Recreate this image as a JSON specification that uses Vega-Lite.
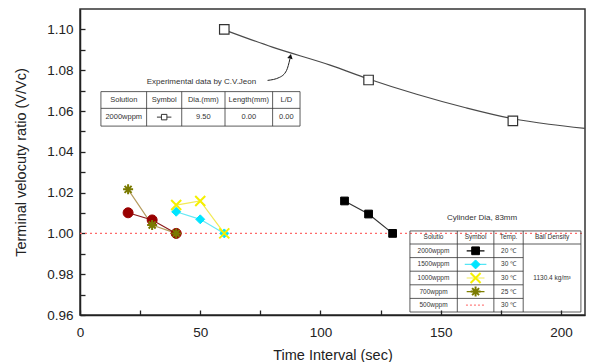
{
  "$schema": "https://vega.github.io/schema/vega-lite/v6.json",
  "width": 505,
  "height": 306,
  "autosize": {"type": "none"},
  "padding": {"left": 80, "top": 9, "right": 4, "bottom": 47},
  "background": "white",
  "config": {"view": {"stroke": "#333333", "strokeWidth": 1.5}, "font": "Liberation Sans"},
  "datasets": {
    "fit": [
      {"x": 60, "y": 1.0998}, {"x": 80, "y": 1.0913}, {"x": 104, "y": 1.0825}, {"x": 120, "y": 1.0757},
      {"x": 140, "y": 1.0682}, {"x": 160, "y": 1.0617}, {"x": 180, "y": 1.0562}, {"x": 195, "y": 1.0535}, {"x": 210, "y": 1.0515}
    ],
    "jeon": [{"x": 60, "y": 1.100}, {"x": 120, "y": 1.0752}, {"x": 180, "y": 1.0552}],
    "jeonsym": [{"x": 35.0, "y": 1.057}],
    "jeonseg": [{"x": 32.0, "x2": 38.0, "y": 1.057}],
    "ref": [{"x": 0, "x2": 210, "y": 1.0}],
    "pts": [
      {"s": "2000", "g": "data", "x": 110, "y": 1.0159},
      {"s": "2000", "g": "data", "x": 120, "y": 1.0095},
      {"s": "2000", "g": "data", "x": 130, "y": 1.0},
      {"s": "1500", "g": "data", "x": 40, "y": 1.0106},
      {"s": "1500", "g": "data", "x": 50, "y": 1.0069},
      {"s": "1500", "g": "data", "x": 60, "y": 1.0},
      {"s": "1000", "g": "data", "x": 40, "y": 1.0139},
      {"s": "1000", "g": "data", "x": 50, "y": 1.0159},
      {"s": "1000", "g": "data", "x": 60, "y": 1.0},
      {"s": "700", "g": "data", "x": 20, "y": 1.0216},
      {"s": "700", "g": "data", "x": 30, "y": 1.0041},
      {"s": "700", "g": "data", "x": 40, "y": 1.0},
      {"s": "m", "g": "data", "x": 20, "y": 1.0101},
      {"s": "m", "g": "data", "x": 30, "y": 1.0066},
      {"s": "m", "g": "data", "x": 40, "y": 1.0},
      {"s": "2000", "g": "table", "x": 164.5, "y": 0.99147},
      {"s": "1500", "g": "table", "x": 164.5, "y": 0.9848},
      {"s": "1000", "g": "table", "x": 164.5, "y": 0.97814},
      {"s": "700", "g": "table", "x": 164.5, "y": 0.97147}
    ],
    "legsegs": [
      {"s": "2000", "x": 160.8, "x2": 168.2, "y": 0.99147},
      {"s": "1500", "x": 160.0, "x2": 169.0, "y": 0.9848},
      {"s": "1000", "x": 160.8, "x2": 168.2, "y": 0.97814},
      {"s": "700", "x": 160.8, "x2": 168.2, "y": 0.97147},
      {"s": "500", "x": 160.5, "x2": 168.5, "y": 0.9648}
    ],
    "segs": [
      {"x": 8.7, "x2": 91.5, "y": 1.0695, "y2": 1.0695},
      {"x": 8.7, "x2": 91.5, "y": 1.0613, "y2": 1.0613},
      {"x": 8.7, "x2": 91.5, "y": 1.0526, "y2": 1.0526},
      {"x": 8.7, "x2": 8.7, "y": 1.0526, "y2": 1.0695},
      {"x": 27.7, "x2": 27.7, "y": 1.0526, "y2": 1.0695},
      {"x": 42.3, "x2": 42.3, "y": 1.0526, "y2": 1.0695},
      {"x": 60.3, "x2": 60.3, "y": 1.0526, "y2": 1.0695},
      {"x": 80.1, "x2": 80.1, "y": 1.0526, "y2": 1.0695},
      {"x": 91.5, "x2": 91.5, "y": 1.0526, "y2": 1.0695},
      {"x": 137.2, "x2": 208.3, "y": 1.0012, "y2": 1.0012},
      {"x": 137.2, "x2": 208.3, "y": 0.9948, "y2": 0.9948},
      {"x": 137.2, "x2": 184.3, "y": 0.98814, "y2": 0.98814},
      {"x": 137.2, "x2": 184.3, "y": 0.98147, "y2": 0.98147},
      {"x": 137.2, "x2": 184.3, "y": 0.9748, "y2": 0.9748},
      {"x": 137.2, "x2": 184.3, "y": 0.96814, "y2": 0.96814},
      {"x": 137.2, "x2": 208.3, "y": 0.96147, "y2": 0.96147},
      {"x": 137.2, "x2": 137.2, "y": 0.96147, "y2": 1.0012},
      {"x": 156.9, "x2": 156.9, "y": 0.96147, "y2": 1.0012},
      {"x": 172.1, "x2": 172.1, "y": 0.96147, "y2": 1.0012},
      {"x": 184.3, "x2": 184.3, "y": 0.96147, "y2": 1.0012},
      {"x": 208.3, "x2": 208.3, "y": 0.96147, "y2": 1.0012}
    ],
    "tab1": [
      {"x": 18.2, "y": 1.0654, "t": "Solution"},
      {"x": 35.0, "y": 1.0654, "t": "Symbol"},
      {"x": 51.3, "y": 1.0654, "t": "Dia.(mm)"},
      {"x": 70.2, "y": 1.0654, "t": "Length(mm)"},
      {"x": 85.8, "y": 1.0654, "t": "L/D"},
      {"x": 18.2, "y": 1.057, "t": "2000wppm"},
      {"x": 51.3, "y": 1.057, "t": "9.50"},
      {"x": 70.2, "y": 1.057, "t": "0.00"},
      {"x": 85.8, "y": 1.057, "t": "0.00"}
    ],
    "tab2": [
      {"x": 147.0, "y": 0.998, "t": "Solutio"},
      {"x": 164.5, "y": 0.998, "t": "Symbol"},
      {"x": 178.2, "y": 0.998, "t": "Temp."},
      {"x": 196.3, "y": 0.998, "t": "Ball Density"},
      {"x": 147.0, "y": 0.99147, "t": "2000wppm"},
      {"x": 147.0, "y": 0.9848, "t": "1500wppm"},
      {"x": 147.0, "y": 0.97814, "t": "1000wppm"},
      {"x": 147.0, "y": 0.97147, "t": "700wppm"},
      {"x": 147.0, "y": 0.9648, "t": "500wppm"},
      {"x": 178.2, "y": 0.99147, "t": "20 ℃"},
      {"x": 178.2, "y": 0.9848, "t": "30 ℃"},
      {"x": 178.2, "y": 0.97814, "t": "30 ℃"},
      {"x": 178.2, "y": 0.97147, "t": "25 ℃"},
      {"x": 178.2, "y": 0.9648, "t": "30 ℃"},
      {"x": 196.3, "y": 0.97814, "t": "1130.4 kg/m³"}
    ],
    "notes": [
      {"x": 50.5, "y": 1.0744, "t": "Experimental data by C.V.Jeon"},
      {"x": 167.2, "y": 1.0077, "t": "Cylinder Dia, 83mm"}
    ],
    "arrow": [
      {"x": 78.0, "y": 1.075}, {"x": 83.0, "y": 1.0765}, {"x": 85.9, "y": 1.0799}, {"x": 87.3, "y": 1.0855}
    ],
    "head": [{"x": 87.5, "y": 1.0868}]
  },
  "encoding": {
    "x": {
      "field": "x", "type": "quantitative",
      "scale": {"domain": [0, 210], "nice": false, "zero": false},
      "axis": {
        "title": "Time Interval (sec)",
        "values": [0, 25, 50, 75, 100, 125, 150, 175, 200],
        "labelExpr": "datum.value % 50 === 0 ? datum.label : ''",
        "tickSize": -5,
        "grid": false,
        "domainColor": "#222222", "domainWidth": 1.5,
        "tickColor": "#222222", "tickWidth": 1.3,
        "labelFontSize": 13.5, "labelColor": "#222222", "labelPadding": 15, "labelFlush": false,
        "titleFontSize": 14.5, "titleFontWeight": "normal", "titleColor": "#222222", "titlePadding": 10
      }
    },
    "y": {
      "field": "y", "type": "quantitative",
      "scale": {"domain": [0.96, 1.11], "nice": false, "zero": false},
      "axis": {
        "title": "Terminal velocuty ratio (V/Vc)",
        "values": [0.96, 0.97, 0.98, 0.99, 1.0, 1.01, 1.02, 1.03, 1.04, 1.05, 1.06, 1.07, 1.08, 1.09, 1.1],
        "format": ".2f",
        "labelExpr": "round(datum.value * 100) % 2 === 0 ? datum.label : ''",
        "tickSize": -5,
        "grid": false,
        "domainColor": "#222222", "domainWidth": 1.5,
        "tickColor": "#222222", "tickWidth": 1.3,
        "labelFontSize": 13.5, "labelColor": "#222222", "labelPadding": 12, "labelFlush": false,
        "titleFontSize": 14.5, "titleFontWeight": "normal", "titleColor": "#222222", "titlePadding": 18
      }
    }
  },
  "resolve": {"scale": {"stroke": "independent", "fill": "independent", "shape": "independent", "size": "independent", "strokeDash": "independent"}},
  "layer": [
    {
      "data": {"name": "ref"},
      "mark": {"type": "rule", "stroke": "#ff6b6b", "strokeWidth": 1.2, "strokeDash": [2, 3]},
      "encoding": {"x2": {"field": "x2"}}
    },
    {
      "data": {"name": "fit"},
      "mark": {"type": "line", "stroke": "#4a4a4a", "strokeWidth": 1.2, "interpolate": "monotone"},
      "encoding": {}
    },
    {
      "data": {"name": "jeon"},
      "mark": {"type": "point", "shape": "square", "filled": true, "fill": "white", "stroke": "#333333", "strokeWidth": 1.2, "size": 90, "opacity": 1},
      "encoding": {}
    },
    {
      "data": {"name": "jeonseg"},
      "mark": {"type": "rule", "stroke": "#333333", "strokeWidth": 1},
      "encoding": {"x2": {"field": "x2"}}
    },
    {
      "data": {"name": "jeonsym"},
      "mark": {"type": "point", "shape": "square", "filled": true, "fill": "white", "stroke": "#333333", "strokeWidth": 1, "size": 30, "opacity": 1},
      "encoding": {}
    },
    {
      "data": {"name": "arrow"},
      "mark": {"type": "line", "stroke": "#222222", "strokeWidth": 1, "interpolate": "monotone"},
      "encoding": {}
    },
    {
      "data": {"name": "head"},
      "mark": {"type": "point", "shape": "triangle-up", "filled": true, "fill": "#111111", "angle": 12, "size": 30, "opacity": 1},
      "encoding": {}
    },
    {
      "data": {"name": "pts"},
      "transform": [{"filter": "datum.g === 'data'"}],
      "mark": {"type": "line", "strokeWidth": 1.2},
      "encoding": {
        "detail": {"field": "s"},
        "stroke": {"field": "s", "type": "nominal", "legend": null,
          "scale": {"domain": ["2000", "1500", "1000", "700", "m"], "range": ["#333333", "#66e8f5", "#f2ea55", "#b59c5e", "#8b1a1a"]}}
      }
    },
    {
      "data": {"name": "legsegs"},
      "mark": {"type": "rule", "strokeWidth": 1.2},
      "encoding": {
        "x2": {"field": "x2"},
        "stroke": {"field": "s", "type": "nominal", "legend": null,
          "scale": {"domain": ["2000", "1500", "1000", "700", "500"], "range": ["#000000", "#55e5f5", "#f2ea55", "#808000", "#ff8080"]}},
        "strokeDash": {"field": "s", "type": "nominal", "legend": null,
          "scale": {"domain": ["2000", "1500", "1000", "700", "500"], "range": [[1, 0], [1, 0], [1, 0], [1, 0], [2, 2]]}}
      }
    },
    {
      "data": {"name": "pts"},
      "transform": [{"filter": "datum.s === '2000' || datum.s === '1500' || datum.s === 'm'"}],
      "mark": {"type": "point", "filled": true, "opacity": 1, "strokeWidth": 1},
      "encoding": {
        "shape": {"field": "s", "type": "nominal", "legend": null,
          "scale": {"domain": ["2000", "1500", "m"], "range": ["square", "diamond", "circle"]}},
        "fill": {"field": "s", "type": "nominal", "legend": null,
          "scale": {"domain": ["2000", "1500", "m"], "range": ["#000000", "#00e5ff", "#990000"]}},
        "stroke": {"field": "s", "type": "nominal", "legend": null,
          "scale": {"domain": ["2000", "1500", "m"], "range": ["#000000", "#00e5ff", "#990000"]}},
        "size": {"field": "s", "type": "nominal", "legend": null,
          "scale": {"domain": ["2000", "1500", "m"], "range": [60, 100, 65]}}
      }
    },
    {
      "data": {"name": "pts"},
      "transform": [{"filter": "datum.s === '1000' || datum.s === '700'"}],
      "mark": {"type": "point", "filled": false, "opacity": 1, "strokeWidth": 2, "size": 100},
      "encoding": {
        "shape": {"field": "s", "type": "nominal", "legend": null,
          "scale": {"domain": ["1000", "700"], "range": ["M-1,-1L1,1M-1,1L1,-1", "M-1,0L1,0M0,-1L0,1M-0.7,-0.7L0.7,0.7M-0.7,0.7L0.7,-0.7"]}},
        "stroke": {"field": "s", "type": "nominal", "legend": null,
          "scale": {"domain": ["1000", "700"], "range": ["#f5f000", "#7a7a00"]}}
      }
    },
    {
      "data": {"name": "segs"},
      "mark": {"type": "rule", "stroke": "#333333", "strokeWidth": 0.8},
      "encoding": {"x2": {"field": "x2"}, "y2": {"field": "y2"}}
    },
    {
      "data": {"name": "tab1"},
      "mark": {"type": "text", "fontSize": 7.5, "color": "#333333", "align": "center", "baseline": "middle"},
      "encoding": {"text": {"field": "t"}}
    },
    {
      "data": {"name": "tab2"},
      "mark": {"type": "text", "fontSize": 6.5, "color": "#333333", "align": "center", "baseline": "middle"},
      "encoding": {"text": {"field": "t"}}
    },
    {
      "data": {"name": "notes"},
      "mark": {"type": "text", "fontSize": 8, "color": "#333333", "align": "center", "baseline": "middle"},
      "encoding": {"text": {"field": "t"}}
    }
  ]
}
